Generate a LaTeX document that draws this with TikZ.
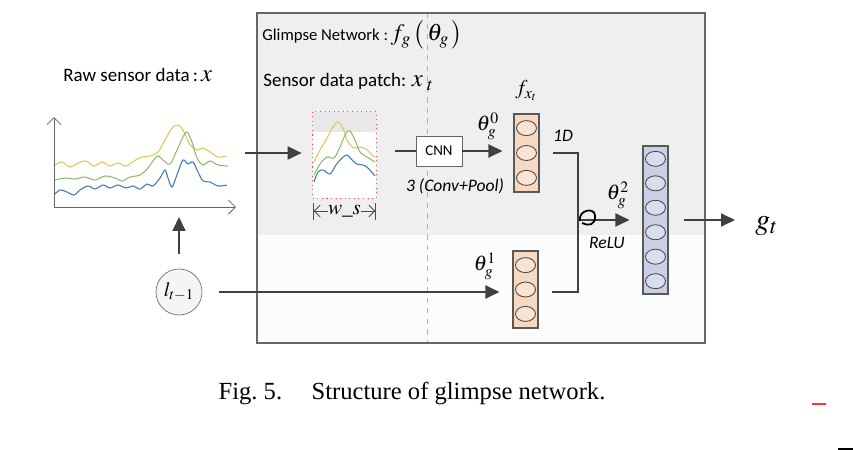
\documentclass[tikz,border=0pt]{standalone}
\usepackage{mathptmx}
\usepackage{fontspec}
\setmainfont{Liberation Serif}
\setsansfont{Carlito}
\usetikzlibrary{positioning,arrows.meta,shapes.geometric}

\definecolor{arrowgray}{HTML}{404040}
\definecolor{bandgray}{HTML}{EFEFEF}
\definecolor{peach}{HTML}{F7D9C2}
\definecolor{lavender}{HTML}{C9D0E6}
\definecolor{sigyellow}{HTML}{E3C455}
\definecolor{siggreen}{HTML}{8DBA6E}
\definecolor{sigblue}{HTML}{3F7AAE}

\tikzset{
    arr/.style={draw=arrowgray, line width=1.1pt, -{Triangle[length=2.8mm,width=2.6mm]}},
    wire/.style={draw=arrowgray, line width=1.1pt},
    axis/.style={draw=black!60, line width=0.5pt, -{Straight Barb[length=1.4mm,width=2.8mm]}},
    col/.style={draw=black!65, line width=0.6pt, minimum width=5mm, inner sep=0pt},
    unit/.style={ellipse, draw=black!70, line width=0.5pt, minimum width=4mm, minimum height=3mm, inner sep=0pt},
    lab/.style={font=\sffamily\fontsize{10.8}{13}\selectfont, inner sep=0pt},
    hand/.style={font=\sffamily\itshape\fontsize{10}{12}\selectfont, inner sep=0pt},
    wt/.style={font=\fontsize{12}{14}\selectfont, inner sep=0pt},
    sig/.style={line width=0.6pt},
}

\begin{document}
\begin{tikzpicture}[x=0.02cm, y=-0.02cm]
    \useasboundingbox (0,0) rectangle (853,450);

    % glimpse network frame
    \fill[bandgray] (257,13) rectangle (705,235);
    \fill[black!1] (257,235) rectangle (705,343);
    \draw[black!30, dashed, line width=0.4pt] (427,13) -- (427,343);
    \draw[black!60, line width=0.9pt] (257,13) rectangle (705,343);

    \node[lab, anchor=west, font=\sffamily\fontsize{9.5}{11}\selectfont] (1) at (262,35)
        {Glimpse Network :\,{\fontsize{13.5}{15}\selectfont$f_g\,\big(\,\theta_g\,\big)$}};
    \node[lab, anchor=west] (2) at (263,82)
        {Sensor data patch: {\fontsize{14}{16}\selectfont$x_{\;t}$}};
    \node[lab, anchor=west] (3) at (63,75)
        {Raw sensor data\,:\,{\fontsize{14}{16}\selectfont$x$}};

    % raw sensor data
    \coordinate (o) at (54,207);
    \draw[axis] (o) -- (54,117);
    \draw[axis] (o) -- (236,207);
    \draw[sig, sigyellow] plot[smooth] coordinates {(55,165) (62,162) (70,167) (78,163) (86,161) (94,166) (102,162) (110,166) (118,163) (126,166) (134,161) (142,157) (150,156) (158,152) (165,140) (172,128) (178,125) (184,132) (190,145) (197,150) (203,148) (210,152) (218,157) (226,156)};
    \draw[sig, siggreen] plot[smooth] coordinates {(55,180) (65,178) (75,179) (85,177) (95,180) (105,176) (115,178) (122,181) (130,177) (140,175) (148,168) (157,156) (163,160) (170,164) (177,150) (183,137) (187,132) (192,142) (197,158) (203,165) (210,161) (218,165) (228,166)};
    \draw[sig, sigblue] plot[smooth] coordinates {(54,195) (60,190) (67,192) (74,195) (80,190) (88,186) (95,189) (103,185) (110,188) (118,185) (126,188) (133,186) (140,189) (147,184) (153,186) (160,178) (165,170) (168,178) (172,187) (178,172) (183,160) (188,164) (193,162) (198,172) (203,181) (210,182) (218,186) (227,185)};
    \coordinate (4) at (245,153);

    % sensor data patch
    \node[fill=white, minimum width=12.6mm, minimum height=17.2mm] (5) at (344.5,155) {};
    \fill[black!9] (5.north west) rectangle ([yshift=-4mm]5.north east);
    \draw[red!70, dotted, line width=0.6pt] (5.north west) rectangle (5.south east);
    \draw[sig, sigyellow] plot[smooth] coordinates {(314,162) (320,150) (327,138) (333,127) (338,122) (343,128) (348,142) (354,148) (360,147) (366,149) (370,153) (375,157)};
    \draw[sig, siggreen] plot[smooth] coordinates {(314,175) (320,164) (327,157) (334,158) (340,147) (346,133) (350,131) (355,140) (360,152) (367,157) (375,162)};
    \draw[sig, sigblue] plot[smooth] coordinates {(314,182) (318,172) (323,170) (330,174) (336,165) (342,158) (347,155) (352,160) (357,164) (363,165) (368,168) (375,176)};
    \node[inner sep=0pt, font=\fontsize{12}{14}\selectfont] (19) at (344.5,211) {$w\_s$};
    \draw[black!70, line width=0.5pt, -{Straight Barb[length=1.2mm,width=2.4mm]Bar[width=3.4mm]}] (19.west) -- (5.south west |- 19);
    \draw[black!70, line width=0.5pt, -{Straight Barb[length=1.2mm,width=2.4mm]Bar[width=3.4mm]}] (19.east) -- (5.south east |- 19);

    % cnn
    \node[draw=black!60, fill=white, minimum width=9.2mm, minimum height=6mm, font=\sffamily\fontsize{8.5}{10}\selectfont] (6) at (439,151) {CNN};
    \node[hand] (10) at (455,186) {3 (Conv+Pool)};

    % feature columns
    \node[col, fill=peach, minimum height=15.6mm] (7) at (526.5,153) {};
    \node[unit, fill=peach!70] (7b) at (7) {};
    \node[unit, fill=peach!70, above=1.8mm of 7b] (7a) {};
    \node[unit, fill=peach!70, below=1.8mm of 7b] (7c) {};
    \node[wt, above=2.5mm of 7] (8) {$f_{x_t}$};

    \node[col, fill=peach, minimum height=15.4mm] (11) at (525.5,289.5) {};
    \node[unit, fill=peach!70] (11b) at (11) {};
    \node[unit, fill=peach!70, above=1.7mm of 11b] (11a) {};
    \node[unit, fill=peach!70, below=1.7mm of 11b] (11c) {};

    \node[col, fill=lavender, minimum height=29.6mm] (15) at (655.5,220) {};
    \node[unit, fill=lavender!70, above=0.86mm of 15.center] (15c) {};
    \node[unit, fill=lavender!70, above=1.72mm of 15c] (15b) {};
    \node[unit, fill=lavender!70, above=1.72mm of 15b] (15a) {};
    \node[unit, fill=lavender!70, below=0.86mm of 15.center] (15d) {};
    \node[unit, fill=lavender!70, below=1.72mm of 15d] (15e) {};
    \node[unit, fill=lavender!70, below=1.72mm of 15e] (15f) {};

    % location
    \node[circle, draw=black!55, fill=black!4, minimum size=9.2mm, inner sep=0pt, font=\fontsize{11.5}{14}\selectfont] (16) at (179,292) {$l_{t-1}$};

    % labels
    \node[wt] (12) at (488,126) {$\theta_g^0$};
    \node[wt] (13) at (485,266) {$\theta_g^1$};
    \node[wt] (14) at (618,195) {$\theta_g^2$};
    \node[hand] (21) at (563,136) {1D};
    \node[hand] (22) at (607,243) {ReLU};
    \node[inner sep=0pt, anchor=west, font=\fontsize{17}{19}\selectfont] (18) at (755,226) {$g_t$};

    % connectors
    \coordinate (9) at (578,220);
    \draw[arr, shorten >=2.2mm] (4) -- (5.west |- 4);
    \draw[wire, shorten <=3.8mm] (5.east |- 6) -- (6.west);
    \draw[arr, shorten >=2.2mm] (6.east) -- (7.west |- 6);
    \draw[arr, shorten <=3.4mm, shorten >=2.6mm] (16.east) -- (11.west |- 16);
    \draw[arr, shorten <=3mm, shorten >=2mm] (16.north) -- (16.north |- o);
    \draw[wire, shorten <=2.6mm] (7.east) -| (9);
    \draw[wire, shorten <=2.6mm] (11.east |- 16) -| (9);
    \draw[arr, shorten >=2.6mm] (9) -- (15.west |- 9);
    \draw[line width=1pt] (580,221) .. controls (578,210) and (594,207) .. (595,215) .. controls (596,226) and (588,226) .. (582,223);
    \draw[arr, shorten <=3mm, shorten >=4mm] (15.east) -- (15.east -| 18.west);

    % caption
    \node[font=\fontsize{14}{16}\selectfont] (20) at (412,393) {Fig.~5.\hspace{1.2em}Structure of glimpse network.};
    \draw[red!80, line width=1pt] (812,404) -- (826,404);
    \draw[black, line width=1pt] (838,449) -- (853,449);
\end{tikzpicture}
\end{document}
